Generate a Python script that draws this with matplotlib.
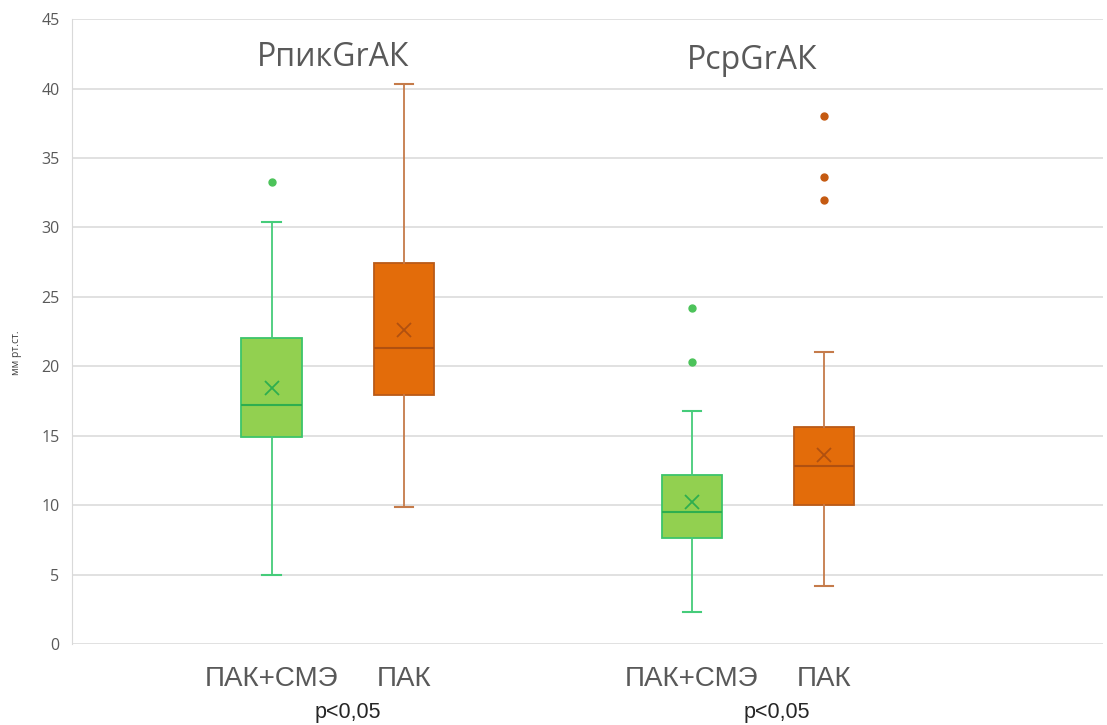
import numpy as np
import matplotlib
matplotlib.use("Agg")
import matplotlib.pyplot as plt

# box statistics, mm Hg
groups = ["РпикGrАК", "РсрGrАК"]
labels = ["ПАК+СМЭ", "ПАК"]

q1 = [14.9, 17.9, 7.6, 10.0]
med = [17.2, 21.3, 9.5, 12.8]
q3 = [22.0, 27.4, 12.2, 15.6]
mean = [18.4, 22.6, 10.2, 13.6]
whislo = [5.0, 9.9, 2.3, 4.2]
whishi = [30.4, 40.3, 16.8, 21.0]
fliers = [[33.3], [], [24.2, 20.3], [38.0, 33.6, 32.0]]

p_text = "p<0,05"

green = dict(face="#92D050", edge="#3CC46A", whisk="#45CC7A", med="#2EAE4F", dot="#4CC35A")
orange = dict(face="#E36C0A", edge="#B95A18", whisk="#C57B4A", med="#B05010", dot="#C55A11")
styles = [green, orange, green, orange]

offset = 0.158
centers = [0, 1]
positions = [c + s for c in centers for s in (-offset, offset)]

fig = plt.figure(figsize=(11.07, 7.25), dpi=100)
ax = fig.add_axes([0.065, 0.1117, 0.9314, 0.862])

for i in range(4):
    st = styles[i]
    stats = [dict(q1=q1[i], med=med[i], q3=q3[i], mean=mean[i],
                  whislo=whislo[i], whishi=whishi[i], fliers=fliers[i])]
    ax.bxp(stats, positions=[positions[i]], widths=0.143, patch_artist=True,
           showmeans=True, manage_ticks=False,
           boxprops=dict(facecolor=st["face"], edgecolor=st["edge"], linewidth=1.3),
           medianprops=dict(color=st["med"], linewidth=1.5),
           whiskerprops=dict(color=st["whisk"], linewidth=1.3),
           capprops=dict(color=st["whisk"], linewidth=1.5),
           capwidths=0.043,
           meanprops=dict(marker="x", markeredgecolor=st["med"], markersize=10,
                          markeredgewidth=1.3),
           flierprops=dict(marker="o", markerfacecolor=st["dot"],
                           markeredgecolor=st["dot"], markersize=5))

ax.set_xlim(-0.633, 1.821)
ax.set_ylim(0, 45)
ax.set_yticks(np.arange(0, 46, 5))
ax.set_xticks([])
ax.yaxis.grid(True, color="#D9D9D9", linewidth=1.1)
ax.set_axisbelow(True)
for side in ["top", "right", "bottom"]:
    ax.spines[side].set_visible(False)
ax.spines["left"].set_color("#D9D9D9")
ax.tick_params(axis="y", length=0, pad=9, labelsize=11.5, labelcolor="#595959")
for t in ax.get_yticklabels():
    t.set_fontfamily("Open Sans")

fig.text(17 / 1107, 1 - 353 / 725, "мм рт.ст.", rotation=90, fontsize=7.5,
         color="#404040", ha="center", va="center", family="Open Sans")

# group titles
ax.text(centers[0] - 0.012, 42.2, groups[0], ha="center", va="center",
        fontsize=23, color="#595959", family="Open Sans")
ax.text(centers[1] - 0.014, 42.0, groups[1], ha="center", va="center",
        fontsize=23, color="#595959", family="Open Sans")

# category labels under each box, p-value under each group
for i, x in enumerate(positions):
    ax.text(x, -2.5, labels[i % 2], ha="center", va="center",
            fontsize=20, color="#595959", family="Liberation Sans",
            clip_on=False)
for c, dx in zip(centers, [0.024, 0.045]):
    ax.text(c + dx, -4.9, p_text, ha="center", va="center", fontsize=15.5,
            color="#262626", family="Liberation Sans", clip_on=False)

fig.savefig("out.png", dpi=100, facecolor="white")
